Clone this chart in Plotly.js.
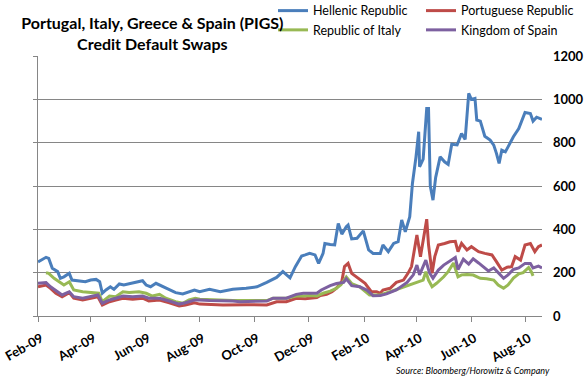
<!DOCTYPE html>
<html>
<head>
<meta charset="utf-8">
<script src="https://cdn.plot.ly/plotly-3.0.1.min.js"></script>
<style>html,body{margin:0;padding:0;background:#fff}#chart{width:586px;height:383px}</style>
</head>
<body>
<div id="chart"></div>
<script>
// ---- data ----
const greeceDates = ['2009-02-01','2009-02-10','2009-02-13','2009-02-17','2009-02-23','2009-02-26','2009-03-02','2009-03-08','2009-03-11','2009-03-19','2009-03-26','2009-04-01','2009-04-07','2009-04-11','2009-04-14','2009-04-18','2009-04-23','2009-04-27','2009-05-03','2009-05-08','2009-05-18','2009-05-29','2009-06-02','2009-06-07','2009-06-13','2009-06-20','2009-06-28','2009-07-05','2009-07-13','2009-07-20','2009-07-26','2009-08-01','2009-08-12','2009-08-24','2009-09-07','2009-09-22','2009-10-04','2009-10-15','2009-10-26','2009-11-02','2009-11-10','2009-11-16','2009-11-23','2009-11-27','2009-12-02','2009-12-08','2009-12-12','2009-12-17','2009-12-19','2009-12-25','2009-12-30','2010-01-03','2010-01-07','2010-01-12','2010-01-14','2010-01-18','2010-01-24','2010-01-31','2010-02-06','2010-02-11','2010-02-19','2010-02-22','2010-02-28','2010-03-06','2010-03-11','2010-03-15','2010-03-19','2010-03-24','2010-03-27','2010-03-31','2010-04-03','2010-04-04','2010-04-08','2010-04-12','2010-04-14','2010-04-16','2010-04-19','2010-04-22','2010-04-27','2010-05-02','2010-05-06','2010-05-10','2010-05-16','2010-05-21','2010-05-25','2010-05-29','2010-06-01','2010-06-05','2010-06-07','2010-06-11','2010-06-16','2010-06-22','2010-06-26','2010-06-29','2010-07-02','2010-07-05','2010-07-09','2010-07-12','2010-07-18','2010-07-24','2010-07-29','2010-07-31','2010-08-06','2010-08-09','2010-08-13','2010-08-19'];
const greece = [250,271,266,220,205,174,181,197,166,163,158,166,169,158,105,120,135,123,148,143,154,163,143,135,151,138,120,108,102,112,120,112,123,112,123,128,135,155,178,205,176,228,277,282,289,282,243,289,335,330,328,427,378,412,420,356,359,393,305,289,289,328,297,335,343,443,389,458,612,735,851,689,724,958,958,600,535,640,735,712,700,793,790,843,815,1028,1000,1005,905,900,830,812,789,751,705,766,758,781,828,866,920,940,935,900,918,908];

const portugalDates = ['2009-02-01','2009-02-10','2009-02-15','2009-02-21','2009-02-28','2009-03-08','2009-03-13','2009-03-23','2009-04-01','2009-04-09','2009-04-14','2009-04-22','2009-04-29','2009-05-07','2009-05-18','2009-05-29','2009-06-05','2009-06-17','2009-06-28','2009-07-09','2009-07-16','2009-07-26','2009-08-01','2009-08-27','2009-09-22','2009-10-15','2009-10-26','2009-11-06','2009-11-17','2009-11-27','2009-12-10','2009-12-14','2009-12-21','2009-12-27','2010-01-01','2010-01-07','2010-01-10','2010-01-14','2010-01-18','2010-01-22','2010-01-27','2010-02-02','2010-02-09','2010-02-15','2010-02-19','2010-02-22','2010-03-02','2010-03-09','2010-03-17','2010-03-22','2010-03-26','2010-03-28','2010-04-01','2010-04-05','2010-04-09','2010-04-12','2010-04-14','2010-04-18','2010-04-21','2010-04-25','2010-05-02','2010-05-08','2010-05-14','2010-05-17','2010-05-21','2010-05-27','2010-06-01','2010-06-09','2010-06-16','2010-06-24','2010-06-29','2010-07-05','2010-07-11','2010-07-16','2010-07-20','2010-07-26','2010-07-31','2010-08-06','2010-08-11','2010-08-15','2010-08-19'];
const portugal = [135,143,128,105,89,108,82,74,82,89,51,66,74,82,77,82,69,74,61,46,51,61,55,51,52,51,66,66,82,80,85,95,100,112,128,160,228,243,197,185,166,151,112,112,105,120,128,155,166,197,228,274,374,274,366,447,330,197,274,328,335,343,345,297,335,305,320,297,289,282,251,212,225,228,274,258,328,335,297,320,328];

const italyDates = ['2009-02-10','2009-02-13','2009-02-19','2009-02-25','2009-03-02','2009-03-08','2009-03-13','2009-03-23','2009-04-01','2009-04-10','2009-04-14','2009-04-22','2009-04-29','2009-05-07','2009-05-14','2009-05-25','2009-06-02','2009-06-09','2009-06-17','2009-06-24','2009-07-05','2009-07-13','2009-07-20','2009-07-27','2009-08-01','2009-08-16','2009-09-07','2009-10-15','2009-10-22','2009-11-06','2009-11-17','2009-11-25','2009-12-02','2009-12-10','2009-12-17','2009-12-25','2010-01-01','2010-01-06','2010-01-12','2010-01-18','2010-01-27','2010-02-07','2010-02-19','2010-03-02','2010-03-13','2010-03-24','2010-04-01','2010-04-08','2010-04-11','2010-04-14','2010-04-18','2010-04-23','2010-05-01','2010-05-06','2010-05-12','2010-05-16','2010-05-17','2010-05-21','2010-05-27','2010-06-03','2010-06-11','2010-06-18','2010-06-26','2010-07-01','2010-07-07','2010-07-12','2010-07-18','2010-07-24','2010-07-29','2010-08-04','2010-08-07','2010-08-09'];
const italy = [200,197,174,158,143,158,120,112,108,105,66,92,89,112,108,112,105,92,100,82,66,59,74,82,77,74,71,71,82,82,92,92,95,92,105,115,128,145,180,150,135,97,97,112,128,143,158,166,205,166,135,151,181,205,245,197,181,190,192,189,174,172,166,143,128,143,175,195,200,224,205,185];

const spainDates = ['2009-02-01','2009-02-10','2009-02-15','2009-02-21','2009-02-28','2009-03-08','2009-03-13','2009-03-23','2009-04-01','2009-04-09','2009-04-14','2009-04-22','2009-04-29','2009-05-07','2009-05-18','2009-05-29','2009-06-05','2009-06-17','2009-06-28','2009-07-09','2009-07-16','2009-07-26','2009-08-01','2009-08-12','2009-09-07','2009-09-15','2009-10-15','2009-10-22','2009-11-06','2009-11-10','2009-11-17','2009-11-25','2009-12-10','2009-12-15','2009-12-25','2010-01-01','2010-01-09','2010-01-12','2010-01-18','2010-01-27','2010-02-04','2010-02-11','2010-02-19','2010-02-26','2010-03-09','2010-03-21','2010-03-28','2010-04-01','2010-04-04','2010-04-11','2010-04-15','2010-04-19','2010-04-25','2010-05-01','2010-05-06','2010-05-14','2010-05-17','2010-05-23','2010-05-29','2010-06-03','2010-06-09','2010-06-14','2010-06-20','2010-06-26','2010-07-01','2010-07-07','2010-07-12','2010-07-18','2010-07-24','2010-07-31','2010-08-06','2010-08-09','2010-08-15','2010-08-19'];
const spain = [151,154,135,117,97,112,89,82,89,97,59,74,82,92,89,92,82,82,69,55,61,74,74,71,69,66,69,82,82,89,100,105,105,120,140,150,155,172,140,135,120,94,95,102,120,155,190,235,190,258,200,174,212,235,248,270,215,262,240,264,245,230,208,222,200,174,190,215,222,243,243,222,230,222];

const seriesNames = ['Hellenic Republic','Portuguese Republic','Republic of Italy','Kingdom of Spain'];
const seriesColors = ['#4a7ebb','#be4b48','#98b954','#7d60a0'];

const tickDates = ['2009-02-01','2009-04-01','2009-06-01','2009-08-01','2009-10-01','2009-12-01','2010-02-01','2010-04-01','2010-06-01','2010-08-01'];
const tickLabels = ['Feb-09','Apr-09','Jun-09','Aug-09','Oct-09','Dec-09','Feb-10','Apr-10','Jun-10','Aug-10'];
const yTicks = [0,200,400,600,800,1000,1200];
const yTickLabels = ['0','200','400','600','800','1000','1200'];

// ---- chart ----
const mk = (x, y, i, lg, ya) => ({
  type:'scatter', mode:'lines', x:x, y:y, name:seriesNames[i], legend:lg,
  xaxis:'x', yaxis:ya,
  line:{color:seriesColors[i], width:3}, hoverinfo:'skip'
});
const data = [
  mk(greeceDates, greece, 0, 'legend', 'y'),
  mk(portugalDates, portugal, 1, 'legend2', 'y'),
  mk(italyDates, italy, 2, 'legend', 'y'),
  mk(spainDates, spain, 3, 'legend2', 'y2')
];

const FONT = 'Lato, "Open Sans", sans-serif';
const grid = '#868686';
const Y_RANGE = [0, 1200.6];
const layout = {
  width:586, height:383,
  margin:{l:38, r:44, t:56, b:67, pad:0, autoexpand:false},
  paper_bgcolor:'#ffffff', plot_bgcolor:'#ffffff',
  font:{family:FONT, color:'#000000', size:12},
  title:{
    text:'Portugal, Italy, Greece &amp; Spain (PIGS)<br>Credit Default Swaps',
    font:{family:FONT, size:16, weight:'bold', color:'#000000'},
    xref:'container', yref:'container', x:0.26, xanchor:'center', y:0.925, yanchor:'top'
  },
  xaxis:{
    type:'date', range:['2009-02-01','2010-08-19'], domain:[0,1], automargin:false,
    tickmode:'array', tickvals:tickDates, ticktext:tickLabels, tickangle:-30,
    ticks:'outside', ticklen:5, tickcolor:grid, tickwidth:1, ticklabelstandoff:4,
    ticklabeloverflow:'allow', ticklabelshift:3,
    showline:true, linecolor:grid, linewidth:1, showgrid:false, zeroline:false,
    tickfont:{family:FONT, size:13, weight:'bold', color:'#000000'}
  },
  yaxis:{
    range:Y_RANGE, tickmode:'array', tickvals:yTicks, automargin:false,
    showgrid:true, gridcolor:grid, gridwidth:1,
    showline:true, linecolor:grid, linewidth:1,
    ticks:'outside', ticklen:4, tickcolor:grid,
    showticklabels:false, zeroline:false, side:'left'
  },
  yaxis2:{
    overlaying:'y', anchor:'x', side:'right', range:Y_RANGE, automargin:false,
    tickmode:'array', tickvals:yTicks, ticktext:yTickLabels,
    showgrid:false, showline:false, ticks:'', zeroline:false,
    ticklabelstandoff:10, ticklabeloverflow:'allow',
    tickfont:{family:FONT, size:13, weight:'bold', color:'#000000'}
  },
  showlegend:true,
  legend:{
    xref:'container', yref:'paper', x:273/586, y:1.2308, xanchor:'left', yanchor:'top',
    bgcolor:'rgba(0,0,0,0)', borderwidth:0, itemwidth:30, tracegroupgap:0,
    font:{family:FONT, size:12.5, color:'#000000'}
  },
  legend2:{
    xref:'container', yref:'paper', x:421/586, y:1.2308, xanchor:'left', yanchor:'top',
    bgcolor:'rgba(0,0,0,0)', borderwidth:0, itemwidth:30, tracegroupgap:0,
    font:{family:FONT, size:12.5, color:'#000000'}
  },
  annotations:[{
    text:'<i>Source: Bloomberg/Horowitz &amp; Company</i>',
    xref:'paper', yref:'paper', x:1.02, y:-0.208, xanchor:'right', yanchor:'middle',
    showarrow:false, font:{family:FONT, size:9, color:'#000000'}
  }]
};

Plotly.newPlot('chart', data, layout, {staticPlot:true, displayModeBar:false});
</script>
</body>
</html>
